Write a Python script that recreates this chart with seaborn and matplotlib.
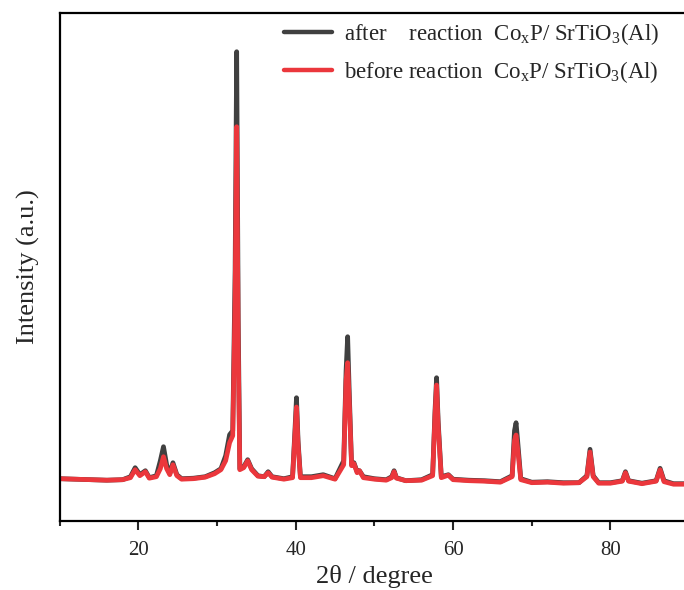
import numpy as np
import pandas as pd
import matplotlib
matplotlib.use("Agg")
import matplotlib.pyplot as plt
import seaborn as sns
from matplotlib.lines import Line2D

# ---- data ----
two_theta = [10.0, 12.0, 14.0, 16.0, 18.0, 19.0, 19.6, 20.2, 20.9, 21.4, 22.3, 22.8, 23.2, 23.6,
             24.0, 24.4, 24.9, 25.5, 27.0, 28.5, 29.7, 30.5, 31.1, 31.6, 32.0, 32.3, 32.5, 32.7,
             32.9, 33.4, 33.9, 34.4, 35.2, 36.0, 36.5, 37.0, 38.5, 39.6, 39.9, 40.1, 40.3, 40.6,
             42.0, 43.5, 45.0, 46.1, 46.4, 46.6, 46.8, 47.1, 47.4, 47.8, 48.1, 48.6, 50.0, 51.5,
             52.2, 52.5, 52.8, 54.0, 56.0, 57.4, 57.7, 57.9, 58.1, 58.5, 59.4, 60.0, 62.0, 64.0,
             66.0, 67.5, 67.8, 68.0, 68.2, 68.6, 70.0, 72.0, 74.0, 76.0, 77.0, 77.4, 77.8, 78.5,
             80.0, 81.5, 81.9, 82.3, 84.0, 85.8, 86.3, 86.8, 88.0, 90.0]

after_reaction = [420, 415, 410, 405, 410, 440, 530, 460, 500, 430, 450, 600, 740, 560,
                  470, 580, 460, 420, 425, 440, 480, 520, 650, 860, 900, 2500, 4690, 2000,
                  520, 540, 610, 520, 450, 440, 490, 440, 420, 440, 900, 1230, 800, 440,
                  440, 460, 420, 600, 1500, 1840, 1300, 560, 580, 490, 500, 440, 420, 410,
                  440, 500, 430, 400, 410, 460, 1100, 1430, 1000, 440, 460, 415, 405, 400,
                  390, 450, 900, 980, 800, 420, 385, 390, 380, 380, 450, 714, 450, 380,
                  380, 400, 490, 400, 375, 400, 524, 400, 370, 370]

before_reaction = [420, 415, 410, 405, 410, 430, 510, 450, 490, 425, 440, 520, 640, 520,
                   460, 560, 450, 415, 420, 435, 470, 510, 600, 780, 850, 2200, 3940, 1700,
                   510, 530, 600, 510, 445, 440, 480, 435, 415, 430, 850, 1137, 760, 430,
                   430, 450, 415, 560, 1400, 1580, 1200, 550, 570, 480, 500, 430, 415, 405,
                   430, 490, 425, 400, 405, 450, 1050, 1357, 950, 430, 455, 410, 400, 395,
                   385, 440, 800, 857, 720, 410, 380, 385, 375, 380, 440, 687, 440, 375,
                   375, 395, 480, 395, 370, 395, 510, 390, 365, 365]

series_names = ["after    reaction  Co$_\\mathrm{x}$P/ SrTiO$_3$(Al)",
                "before reaction  Co$_\\mathrm{x}$P/ SrTiO$_3$(Al)"]
series_colors = ["#404040", "#EB373C"]

x_ticks = [20, 40, 60, 80]

# ---- style ----
sns.set_style("ticks")
plt.rcParams["font.family"] = ["Liberation Serif", "DejaVu Serif"]
plt.rcParams["mathtext.fontset"] = "custom"
plt.rcParams["mathtext.rm"] = "Liberation Serif"
plt.rcParams["mathtext.it"] = "Liberation Serif:italic"
plt.rcParams["mathtext.bf"] = "Liberation Serif:bold"

df = pd.DataFrame({
    "two_theta": two_theta * 2,
    "intensity": after_reaction + before_reaction,
    "sample": [series_names[0]] * len(two_theta) + [series_names[1]] * len(two_theta),
})

fig = plt.figure(figsize=(6.84, 5.90), dpi=100)
ax = fig.add_axes([59.6 / 684, 69.3 / 590, 629.6 / 684, 507.7 / 590])

sns.lineplot(data=df, x="two_theta", y="intensity", hue="sample",
             hue_order=series_names, palette=series_colors,
             linewidth=3.4, ax=ax, legend=False, sort=False, estimator=None)

ax.set_xlim(10, 90)
ax.set_ylim(0, 5077)
ax.set_xticks(x_ticks)
ax.set_xticks([10, 30, 50, 70, 90], minor=True)
ax.set_yticks([])
ax.tick_params(axis="x", which="major", direction="out", length=6.5, width=1.5,
               labelsize=15, pad=8)
ax.tick_params(axis="x", which="minor", direction="out", length=3.5, width=1.5)
for s in ax.spines.values():
    s.set_linewidth(1.6)
    s.set_color("black")

ax.set_xlabel("2θ / degree", fontsize=19, labelpad=4)
ax.set_ylabel("Intensity (a.u.)", fontsize=19, labelpad=14)

handles = [Line2D([], [], color=c, lw=3.2) for c in series_colors]
fig.legend(handles, series_names, loc="upper left",
           bbox_to_anchor=(284 / 684, 1 - 21 / 590), bbox_transform=fig.transFigure,
           frameon=False, fontsize=16.5, handlelength=2.1, handletextpad=0.5,
           labelspacing=0.55, borderpad=0, borderaxespad=0)

fig.savefig("out.png", dpi=100)
